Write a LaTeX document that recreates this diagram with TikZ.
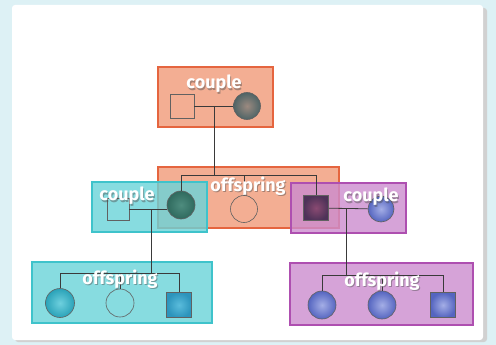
\documentclass[tikz,border=0pt]{standalone}
\usepackage{fontspec}
\setmainfont{Fira Sans}
\usetikzlibrary{shadings}
\definecolor{bgcyan}{HTML}{DDF1F5}
\definecolor{ofill}{HTML}{F09A78}
\definecolor{odraw}{HTML}{E5653F}
\definecolor{cfill}{HTML}{6AD4D9}
\definecolor{cdraw}{HTML}{3FC3CB}
\definecolor{pfill}{HTML}{CC8CCF}
\definecolor{pdraw}{HTML}{AE4FB0}
\definecolor{lnk}{HTML}{3A3A3A}
\definecolor{greyin}{HTML}{9C8A80}
\definecolor{greyout}{HTML}{4F6466}
\definecolor{tealin}{HTML}{4E8C7E}
\definecolor{tealout}{HTML}{2F6A5E}
\definecolor{purpin}{HTML}{8A4A72}
\definecolor{purpout}{HTML}{4E3258}
\definecolor{bluein}{HTML}{A4AEE6}
\definecolor{blueout}{HTML}{5565C0}
\definecolor{cyanin}{HTML}{6ED0DE}
\definecolor{cyanout}{HTML}{2AA2B8}
\definecolor{cyansqin}{HTML}{5ABCDC}
\definecolor{cyansqout}{HTML}{2C94BC}
\tikzset{
  box/.style={rectangle, minimum width=#1, inner sep=0pt, line width=1.2pt, fill opacity=0.8},
  obox/.style={draw=odraw, fill=ofill},
  cbox/.style={draw=cdraw, fill=cfill},
  pbox/.style={draw=pdraw, fill=pfill},
  lbl/.style={text=white, font=\bfseries\fontsize{18}{18}\selectfont, inner sep=0pt},
  lblsh/.style={text=black!70, opacity=0.45, font=\bfseries\fontsize{18}{18}\selectfont, inner sep=0pt},
  fem/.style={circle, draw=lnk!80, line width=0.6pt, minimum size=#1, inner sep=0pt},
  mal/.style={rectangle, draw=lnk!80, line width=0.6pt, minimum size=#1, inner sep=0pt},
  lnkline/.style={draw=lnk, line width=0.8pt},
}
\begin{document}
\begin{tikzpicture}[x=1pt,y=-1pt]
\useasboundingbox (0,0) rectangle (496,345);
\fill[bgcyan] (0,0) rectangle (496,345);
\fill[black!18, rounded corners=3pt] (15,8) rectangle (487,342);
\fill[white, rounded corners=3pt] (12,5) rectangle (483,340);

% boxes
\node[box=115pt, minimum height=60pt, obox] (topbox) at (215.5,97) {};
\node[box=181pt, minimum height=61pt, obox] (midbox) at (248.5,197.5) {};
\node[box=115pt, minimum height=50pt, cbox] (lcbox) at (149.5,207) {};
\node[box=115pt, minimum height=50pt, pbox] (rcbox) at (348.5,208) {};
\node[box=180pt, minimum height=61pt, cbox] (blbox) at (122,292.5) {};
\node[box=183pt, minimum height=62pt, pbox] (brbox) at (381.5,294) {};

% top couple
\node[mal=24pt] (tsq) at (182,106) {};
\node[fem=27pt, inner color=greyin, outer color=greyout] (tci) at (247,106) {};
\coordinate (tm) at (214,106);
\coordinate (tbar) at (214,175);
\coordinate (tbl) at (181,175);
\coordinate (tbr) at (316,175);
\coordinate (tbm) at (244,175);
\path[lnkline] (tsq) -- (tci);
\path[lnkline] (tm) -- (tbar);

% middle offspring
\node[fem=28pt, inner color=tealin, outer color=tealout] (mc1) at (181,205) {};
\node[fem=27pt] (mc2) at (244,209) {};
\node[mal=25pt, inner color=purpin, outer color=purpout] (msq) at (316,208) {};
\path[lnkline] (tbl) -- (tbr);
\path[lnkline] (tbl) -- (mc1);
\path[lnkline] (tbm) -- (mc2);
\path[lnkline] (tbr) -- (msq);

% left couple
\node[mal=22pt] (lsq) at (118,209) {};
\path[lnkline] (lsq) -- (mc1.west |- lsq);
\coordinate (lm) at (151,209);
\coordinate (lbar) at (151,273);
% right couple
\node[fem=26pt, inner color=bluein, outer color=blueout] (rci) at (381,209) {};
\path[lnkline] (msq) -- (rci);
\coordinate (rm) at (346,209);
\coordinate (rbar) at (346,275);
\path[lnkline] (lm) -- (lbar);
\path[lnkline] (rm) -- (rbar);

% bottom left offspring
\coordinate (blbl) at (60,273);
\coordinate (blbm) at (120,273);
\coordinate (blbr) at (179,273);
\node[fem=29pt, inner color=cyanin, outer color=cyanout] (bl1) at (60,303) {};
\node[fem=28pt] (bl2) at (120,303) {};
\node[mal=25pt, inner color=cyansqin, outer color=cyansqout] (bl3) at (179,305) {};
\path[lnkline] (blbl) -- (blbr);
\path[lnkline] (blbl) -- (bl1);
\path[lnkline] (blbm) -- (bl2);
\path[lnkline] (blbr) -- (bl3);

% bottom right offspring
\coordinate (brbl) at (322,275);
\coordinate (brbm) at (382,275);
\coordinate (brbr) at (443,275);
\node[fem=28pt, inner color=bluein, outer color=blueout] (br1) at (322,305) {};
\node[fem=28pt, inner color=bluein, outer color=blueout] (br2) at (382,305) {};
\node[mal=25pt, inner color=bluein, outer color=blueout] (br3) at (443,305) {};
\path[lnkline] (brbl) -- (brbr);
\path[lnkline] (brbl) -- (br1);
\path[lnkline] (brbm) -- (br2);
\path[lnkline] (brbr) -- (br3);

% labels
\foreach \n/\t/\x/\y in {s1/couple/214/84, s2/offspring/248/186, s3/couple/127/196, s4/couple/371/197, s5/offspring/120/279, s6/offspring/382/281}{
  \node[lblsh] at (\x+1,\y+1.3) {\t};
}
\node[lbl] (l1) at (214,84) {couple};
\node[lbl] (l2) at (248,186) {offspring};
\node[lbl] (l3) at (127,196) {couple};
\node[lbl] (l4) at (371,197) {couple};
\node[lbl] (l5) at (120,279) {offspring};
\node[lbl] (l6) at (382,281) {offspring};
\end{tikzpicture}
\end{document}
